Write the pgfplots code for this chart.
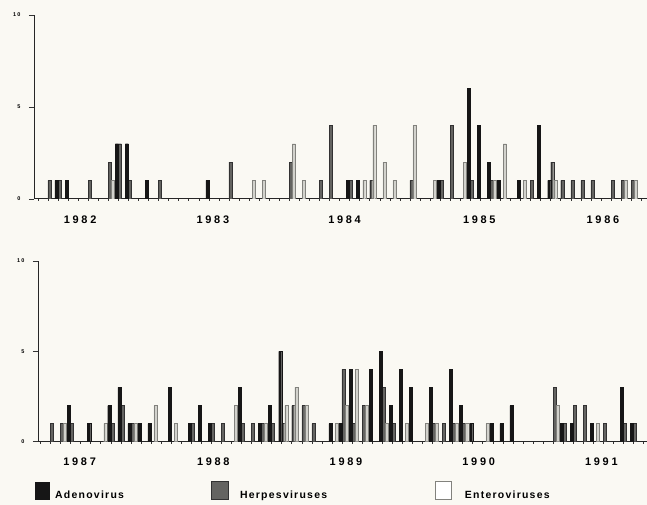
\documentclass[border=0pt]{standalone}
\usepackage{fontspec}
\setmainfont{Liberation Sans}
\newfontfamily\yearfont[LetterSpace=25]{Liberation Sans}
\newfontfamily\legfont[LetterSpace=12]{Liberation Sans}
\usepackage{pgfplots}
\usepackage{pgfplotstable}
\pgfplotsset{compat=1.18}

\definecolor{paper}{RGB}{250,249,243}
\definecolor{adeno}{RGB}{22,22,22}
\definecolor{herpes}{RGB}{100,100,97}
\definecolor{herpesedge}{RGB}{50,50,50}
\definecolor{entero}{RGB}{210,210,204}
\definecolor{enteroedge}{RGB}{130,130,125}

% counts per 4-week period (13 periods a year), 1982-1986
\pgfplotstableread{
p n
1 1
2 1
7 3
8 3
10 1
16 1
30 1
31 1
39 1
42 6
43 4
44 2
45 1
47 1
49 4
50 1
}\adenoA
\pgfplotstableread{
p n
0 1
1 1
4 1
6 2
7 3
8 1
11 1
18 2
24 2
27 1
28 4
30 1
32 1
36 1
39 1
40 4
42 1
44 1
48 1
50 2
51 1
52 1
53 1
54 1
56 1
57 1
58 1
}\herpesA
\pgfplotstableread{
p n
6 1
20 1
21 1
24 3
25 1
31 1
32 4
33 2
34 1
36 4
38 1
41 2
44 1
45 3
47 1
50 1
57 1
58 1
}\enteroA

% 1987-1991
\pgfplotstableread{
p n
2 2
4 1
6 2
7 3
8 1
9 1
10 1
12 3
14 1
15 2
16 1
19 3
21 1
22 2
23 5
28 1
29 1
30 4
32 4
33 5
34 2
35 4
36 3
38 3
40 4
41 2
42 1
44 1
45 1
46 2
51 1
52 1
54 1
57 3
58 1
}\adenoB
\pgfplotstableread{
p n
0 1
1 1
2 1
6 1
7 2
8 1
14 1
16 1
17 1
19 1
20 1
21 1
22 1
23 1
24 2
25 2
26 1
29 4
30 1
31 2
33 3
34 1
38 1
39 1
40 1
41 1
50 3
51 1
52 2
53 2
55 1
57 1
58 1
}\herpesB
\pgfplotstableread{
p n
1 1
5 1
8 1
10 2
12 1
18 2
21 1
23 2
24 3
25 2
28 1
29 2
30 4
31 2
33 1
35 1
37 1
38 1
40 1
41 1
43 1
50 2
54 1
}\enteroB

\pgfplotsset{
  panel/.style={
    scale only axis, anchor=south west,
    ymin=0, ymax=10, ytick=\empty,
    extra y ticks={0,5,10},
    extra y tick style={major tick length=5bp,
      tick label style={font=\yearfont\bfseries\fontsize{5.5}{5.5}\selectfont, xshift=-5bp}},
    axis x line=bottom, axis y line=left,
    axis line style={-, line width=0.8pt, black!85},
    tick align=outside,
    major tick length=2bp,
    xtick={-0.7,0.3,...,59.4}, xticklabels={},
    tick style={line width=0.5pt, black!80},
    /pgf/number format/assume math mode=true,
    extra x tick style={major tick length=0pt,
      tick label style={font=\yearfont\bfseries\fontsize{11}{11}\selectfont, yshift=-13bp}},
  },
  adenobar/.style={ybar, bar width=0.3, bar shift=0pt, fill=adeno, draw=adeno, line width=0.3pt},
  herpesbar/.style={ybar, bar width=0.3, bar shift=0pt, fill=herpes, draw=herpesedge, line width=0.3pt},
  enterobar/.style={ybar, bar width=0.3, bar shift=0pt, fill=entero, draw=enteroedge, line width=0.3pt},
}

\begin{document}
\begin{tikzpicture}
\fill[paper] (0bp,0bp) rectangle (647bp,-505bp);

\begin{axis}[panel, at={(34bp,-199bp)}, width=613bp, height=184bp,
    xmin=-1.09, xmax=59.84,
    extra x ticks={3.5,16.7,29.8,43.2,55.5},
    extra x tick labels={1982,1983,1984,1985,1986}]
  \addplot[herpesbar] table[x expr=\thisrow{p}+0.45, y=n] {\herpesA};
  \addplot[enterobar] table[x expr=\thisrow{p}+0.75, y=n] {\enteroA};
  \addplot[adenobar] table[x expr=\thisrow{p}+0.15, y=n] {\adenoA};
\end{axis}

\begin{axis}[panel, at={(38bp,-442bp)}, width=609bp, height=181bp,
    xmin=-0.94, xmax=59.6,
    extra x ticks={3.2,16.5,29.7,42.9,55.1},
    extra x tick labels={1987,1988,1989,1990,1991}]
  \addplot[herpesbar] table[x expr=\thisrow{p}+0.45, y=n] {\herpesB};
  \addplot[enterobar] table[x expr=\thisrow{p}+0.75, y=n] {\enteroB};
  \addplot[adenobar] table[x expr=\thisrow{p}+0.15, y=n] {\adenoB};
\end{axis}

% legend
\begin{scope}[every node/.style={anchor=base west, inner sep=0pt,
    font=\legfont\bfseries\fontsize{10.5}{10.5}\selectfont}]
  \fill[adeno] (35bp,-482bp) rectangle (50bp,-500bp);
  \node at (55bp,-499bp) {Adenovirus};
  \filldraw[fill=herpes, draw=herpesedge, line width=0.5pt] (211bp,-482bp) rectangle (228bp,-500bp);
  \node at (240bp,-499bp) {Herpesviruses};
  \filldraw[fill=white, draw=enteroedge, line width=0.5pt] (436bp,-482bp) rectangle (452bp,-500bp);
  \node at (465bp,-499bp) {Enteroviruses};
\end{scope}
\end{tikzpicture}
\end{document}
